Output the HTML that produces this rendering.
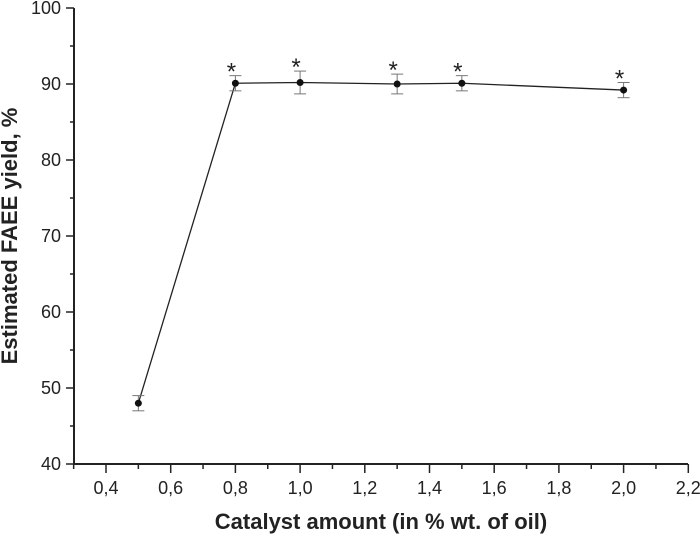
<!DOCTYPE html>
<html><head><meta charset="utf-8"><style>body{margin:0;background:#fff}svg{display:block;font-family:"Liberation Sans",Arial,sans-serif}</style></head>
<body>
<svg id="c" width="700" height="536" viewBox="0 0 700 536"></svg>
<script>
const xs=[0.5,0.8,1.0,1.3,1.5,2.0];
const ys=[48.0,90.1,90.2,90.0,90.1,89.2];
const errs=[1.0,1.0,1.5,1.3,1.0,1.0];
const stars=[false,true,true,true,true,true];
const xTicks=[0.4,0.6,0.8,1.0,1.2,1.4,1.6,1.8,2.0,2.2];
const yTicks=[40,50,60,70,80,90,100];
const NS="http://www.w3.org/2000/svg";
const svg=document.getElementById('c');
const X=v=>106+(v-0.4)*323.5;
const Y=v=>464-(v-40)*7.6;
function el(t,a,name,txt){const e=document.createElementNS(NS,t);for(const k in a)e.setAttribute(k,a[k]);


if(txt!==undefined)e.textContent=txt;svg.appendChild(e);return e;}
el('line',{x1:74,y1:Y(100),x2:74,y2:465,stroke:'#222','stroke-width':2},'y-axis');
el('line',{x1:73,y1:464,x2:688,y2:464,stroke:'#222','stroke-width':2},'x-axis');
for(let v=40;v<=100;v+=5){const maj=v%10===0;el('line',{x1:maj?66:70,y1:Y(v),x2:74,y2:Y(v),stroke:'#222','stroke-width':1.5},'y-tick');}
yTicks.forEach(v=>el('text',{x:61,y:Y(v)+6,'text-anchor':'end','font-size':18,fill:'#222'},'y-tick-label',String(v)));
for(let i=3;i<=22;i++){const v=i/10;const maj=i%2===0;el('line',{x1:X(v),y1:464,x2:X(v),y2:maj?473:469,stroke:'#222','stroke-width':1.5},'x-tick');}
xTicks.forEach(v=>el('text',{x:X(v),y:494,'text-anchor':'middle','font-size':18,fill:'#222'},'x-tick-label',v.toFixed(1).replace('.',',')));
el('text',{x:381,y:529,'text-anchor':'middle','font-size':22,'font-weight':'bold',fill:'#222'},'x-axis-title','Catalyst amount (in % wt. of oil)');
el('text',{x:0,y:0,transform:'translate(17,236) rotate(-90)','text-anchor':'middle','font-size':22,'font-weight':'bold',fill:'#222'},'y-axis-title','Estimated FAEE yield, %');
el('polyline',{points:xs.map((x,i)=>X(x)+','+Y(ys[i])).join(' '),fill:'none',stroke:'#222','stroke-width':1.3},'series-line');
xs.forEach((x,i)=>{const cx=X(x),t=Y(ys[i]+errs[i]),b=Y(ys[i]-errs[i]);
el('line',{x1:cx,y1:t,x2:cx,y2:b,stroke:'#777','stroke-width':1},'error-bar');
el('line',{x1:cx-6,y1:t,x2:cx+6,y2:t,stroke:'#777','stroke-width':1},'error-cap');
el('line',{x1:cx-6,y1:b,x2:cx+6,y2:b,stroke:'#777','stroke-width':1},'error-cap');
el('circle',{cx:cx,cy:Y(ys[i]),r:3.5,fill:'#111'},'data-point');
if(stars[i])el('text',{x:cx-4,y:t+4,'text-anchor':'middle','font-size':24,fill:'#222'},'significance-star','*');});
</script>
</body></html>
